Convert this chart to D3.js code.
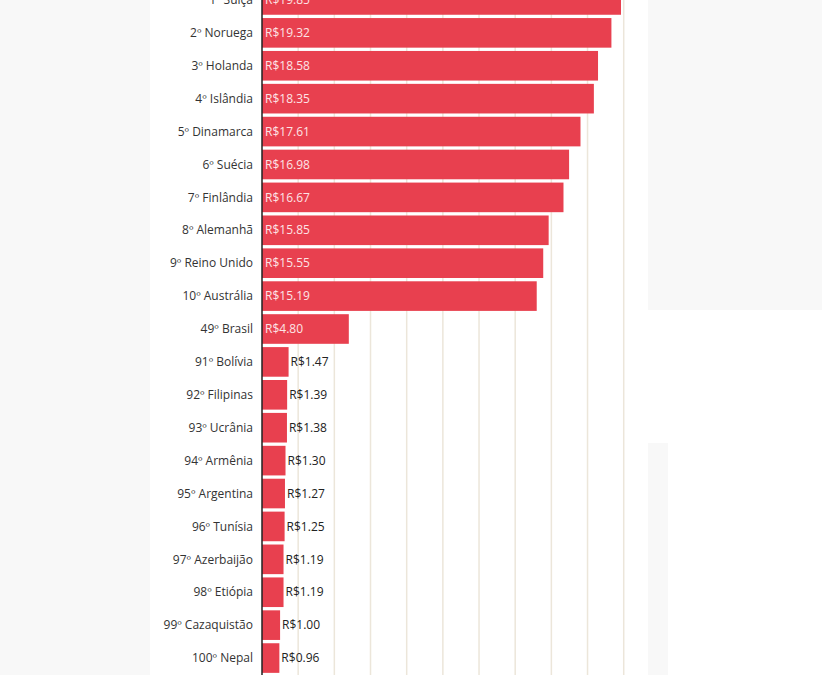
<!DOCTYPE html>
<html><head><meta charset="utf-8">
<script src="https://cdn.jsdelivr.net/npm/d3@7"></script>
<style>body{margin:0;background:#f8f8f8;}svg{display:block;}</style>
</head><body><svg id="c" width="822" height="675"></svg>
<script>
const countries = ["1º Suíça","2º Noruega","3º Holanda","4º Islândia","5º Dinamarca","6º Suécia","7º Finlândia","8º Alemanhã","9º Reino Unido","10º Austrália","49º Brasil","91º Bolívia","92º Filipinas","93º Ucrânia","94º Armênia","95º Argentina","96º Tunísia","97º Azerbaijão","98º Etiópia","99º Cazaquistão","100º Nepal"];
const values = [19.85,19.32,18.58,18.35,17.61,16.98,16.67,15.85,15.55,15.19,4.80,1.47,1.39,1.38,1.30,1.27,1.25,1.19,1.19,1.00,0.96];
const gridTicks = [2,4,6,8,10,12,14,16,18,20];

const svg = d3.select("#c");
// background panels
svg.append("rect").attr("x",150).attr("y",0).attr("width",498).attr("height",675).attr("fill","#fff");
svg.append("rect").attr("x",648).attr("y",310).attr("width",174).attr("height",133).attr("fill","#fff");
svg.append("rect").attr("x",668).attr("y",443).attr("width",154).attr("height",232).attr("fill","#fff");

const x = d3.scaleLinear().domain([0,19.85]).range([262,621]);
const y = d3.scaleBand().domain(countries).range([-16.5,674.5]).paddingInner(0.1).paddingOuter(0.05);

svg.append("g").selectAll("line").data(gridTicks).join("line")
  .attr("x1",d=>x(d)).attr("x2",d=>x(d)).attr("y1",0).attr("y2",675)
  .attr("stroke","#ece6da").attr("stroke-width",1.5);

svg.append("g").selectAll("rect").data(values).join("rect")
  .attr("x",x(0)).attr("y",(d,i)=>y(countries[i])).attr("width",d=>x(d)-x(0)).attr("height",y.bandwidth())
  .attr("fill","#e8404f");

svg.append("line").attr("x1",x(0)).attr("x2",x(0)).attr("y1",0).attr("y2",675).attr("stroke","#222").attr("stroke-width",1.5);

svg.append("g").selectAll("text").data(countries).join("text")
  .attr("x",253).attr("y",d=>y(d)+y.bandwidth()/2).attr("dy","0.35em").attr("text-anchor","end")
  .attr("font-family","Open Sans").attr("font-size",12).attr("fill","#333").text(d=>d);

svg.append("g").selectAll("text").data(values).join("text")
  .attr("x",d=>d>3?x(0)+3:x(d)+2).attr("y",(d,i)=>y(countries[i])+y.bandwidth()/2).attr("dy","0.35em")
  .attr("font-family","Open Sans").attr("font-size",12).attr("fill",d=>d>3?"#fde4e6":"#222")
  .text(d=>"R$"+d.toFixed(2));
</script></body></html>
